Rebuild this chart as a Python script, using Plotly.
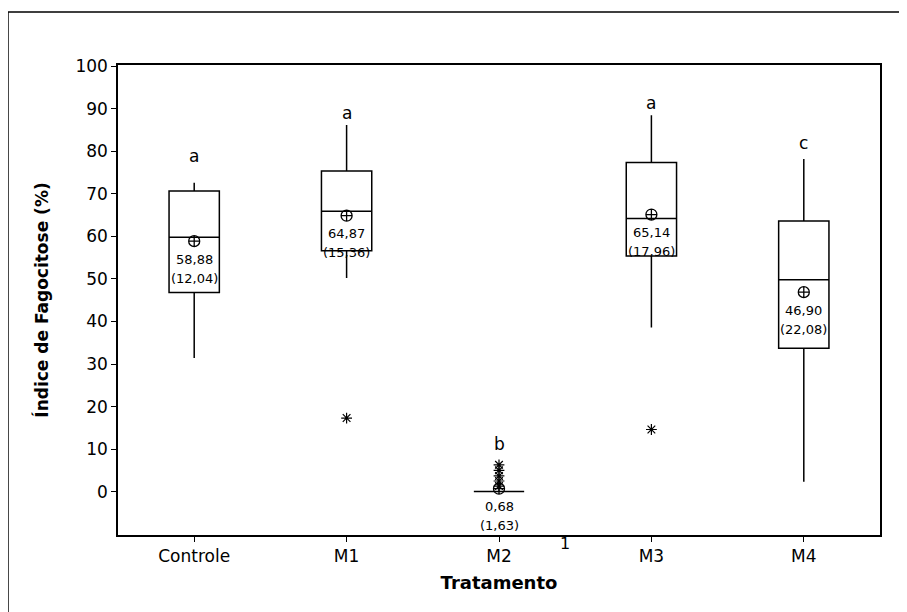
import plotly.graph_objects as go

categories = ["Controle", "M1", "M2", "M3", "M4"]
q1 = [46.8, 56.6, 0.0, 55.4, 33.7]
median = [59.8, 65.9, 0.0, 64.2, 49.8]
q3 = [70.7, 75.4, 0.0, 77.4, 63.6]
lower_whisker = [31.4, 50.2, 0.0, 38.6, 2.3]
upper_whisker = [72.6, 86.2, 0.0, 88.5, 78.2]
means = [58.88, 64.87, 0.68, 65.14, 46.90]
sds = [12.04, 15.36, 1.63, 17.96, 22.08]
outlier_cat = ["M1", "M2", "M2", "M2", "M2", "M2", "M3"]
outlier_val = [17.3, 6.3, 5.0, 3.7, 2.5, 1.3, 14.6]
letters = ["a", "a", "b", "a", "c"]
letter_y = [79.0, 89.0, 11.3, 91.3, 82.0]
y_ticks = [0, 10, 20, 30, 40, 50, 60, 70, 80, 90, 100]

FONT = "DejaVu Sans"

fig = go.Figure()
fig.add_trace(go.Box(
    x=categories, q1=q1, median=median, q3=q3,
    lowerfence=lower_whisker, upperfence=upper_whisker,
    fillcolor="white", line=dict(color="black", width=1.5),
    width=0.33, whiskerwidth=0, boxpoints=False, showlegend=False,
))
fig.add_trace(go.Scatter(
    x=outlier_cat, y=outlier_val, mode="markers",
    marker=dict(symbol="asterisk-open", size=9, color="black",
                line=dict(color="black", width=1.2)),
    showlegend=False,
))
fig.add_trace(go.Scatter(
    x=categories, y=means, mode="markers",
    marker=dict(symbol="circle-cross-open", size=11, color="black",
                line=dict(color="black", width=1.3)),
    showlegend=False,
))

def fmt(v):
    return f"{v:.2f}".replace(".", ",")

ann = []
for c, m, s in zip(categories, means, sds):
    ann.append(dict(x=c, y=m, xref="x", yref="y", text=fmt(m), showarrow=False,
                    yshift=-18, font=dict(family=FONT, size=13, color="black")))
    ann.append(dict(x=c, y=m, xref="x", yref="y", text="(" + fmt(s) + ")", showarrow=False,
                    yshift=-37, font=dict(family=FONT, size=13, color="black")))
for c, l, ly in zip(categories, letters, letter_y):
    ann.append(dict(x=c, y=ly, xref="x", yref="y", text=l, showarrow=False,
                    font=dict(family=FONT, size=17, color="black")))
ann.append(dict(x=2.43, y=-0.019, xref="x", yref="paper", text="1", showarrow=False,
                yanchor="middle", font=dict(family=FONT, size=16, color="black")))

fig.update_layout(
    width=907, height=612, autosize=False,
    margin=dict(l=110, r=35, t=57, b=85),
    paper_bgcolor="white", plot_bgcolor="white",
    font=dict(family=FONT, size=17, color="black"),
    annotations=ann,
    shapes=[dict(type="rect", xref="paper", yref="paper",
                 x0=-0.1444, x1=1.2, y0=-0.3, y1=1.1128,
                 line=dict(color="black", width=1.5), layer="below")],
)
fig.update_xaxes(
    type="category", categoryorder="array", categoryarray=categories,
    range=[-0.5, 4.5], showline=True, mirror=True, linecolor="black", linewidth=1.5,
    ticks="outside", ticklen=5, tickcolor="black", showgrid=False, zeroline=False,
    tickfont=dict(family=FONT, size=17), automargin=False,
    title=dict(text="<b>Tratamento</b>", font=dict(family=FONT, size=18), standoff=11),
)
fig.update_yaxes(
    range=[-10.2, 100.3], tickvals=y_ticks, showline=True, mirror=True,
    linecolor="black", linewidth=1.5, ticks="outside", ticklen=5, tickcolor="black",
    showgrid=False, zeroline=False, tickfont=dict(family=FONT, size=17), automargin=False,
    title=dict(text="<b>Índice de Fagocitose (%)</b>", font=dict(family=FONT, size=17), standoff=22),
)

fig.write_html("out.html")
